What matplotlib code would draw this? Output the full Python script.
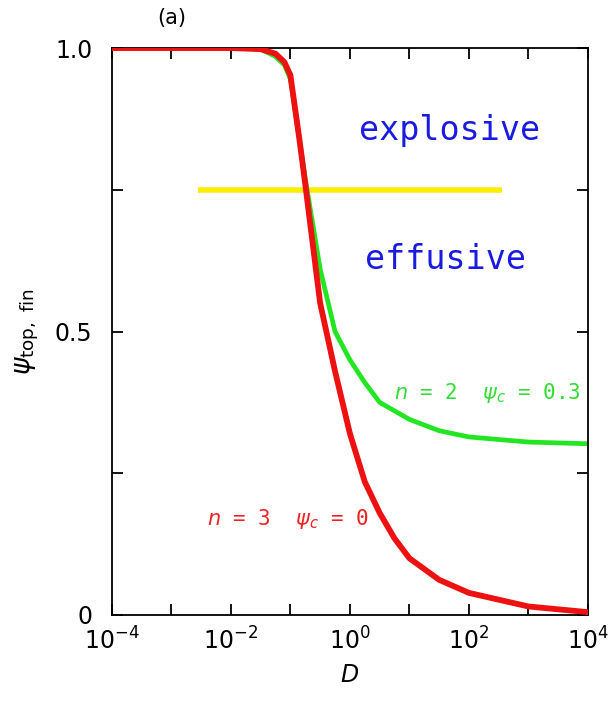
import matplotlib.pyplot as plt
import numpy as np

# log10(D) sample points and final top porosity for each case
logD_red = [-4, -2, -1.5, -1.25, -1.1, -1.0, -0.85, -0.75, -0.5, -0.25, 0, 0.25, 0.5, 0.75, 1.0, 1.5, 2, 3, 4]
psi_red = [1.0, 1.0, 0.998, 0.99, 0.975, 0.952, 0.84, 0.76, 0.55, 0.43, 0.32, 0.235, 0.18, 0.135, 0.10, 0.062, 0.039, 0.015, 0.005]

logD_green = [-4, -2, -1.5, -1.25, -1.1, -1.0, -0.85, -0.75, -0.5, -0.25, 0, 0.25, 0.5, 1.0, 1.5, 2, 3, 4]
psi_green = [1.0, 1.0, 0.998, 0.985, 0.97, 0.945, 0.84, 0.77, 0.61, 0.50, 0.45, 0.41, 0.375, 0.345, 0.325, 0.314, 0.305, 0.302]

# threshold separating explosive / effusive
threshold = 0.75
threshold_span = [10**-2.55, 10**2.55]

xticks = [1e-4, 1e-3, 1e-2, 1e-1, 1e0, 1e1, 1e2, 1e3, 1e4]
xticklabels = [r'$10^{-4}$', '', r'$10^{-2}$', '', r'$10^{0}$', '', r'$10^{2}$', '', r'$10^{4}$']
yticks = [0, 0.25, 0.5, 0.75, 1.0]
yticklabels = ['0', '', '0.5', '', '1.0']

fig = plt.figure(figsize=(6.08, 7.01), dpi=100)
ax = fig.add_axes([0.184, 0.1227, 0.783, 0.8088])

ax.plot(threshold_span, [threshold, threshold], color='#ffee00', lw=4.0, solid_capstyle='butt', zorder=1)
ax.plot(10**np.array(logD_green), psi_green, color='#22e622', lw=3.4, zorder=2)
ax.plot(10**np.array(logD_red), psi_red, color='#ee1111', lw=4.2, zorder=3)

ax.set_xscale('log')
ax.set_xlim(1e-4, 1e4)
ax.set_ylim(0, 1.0)
ax.set_xticks(xticks)
ax.set_xticklabels(xticklabels)
ax.xaxis.set_minor_locator(plt.NullLocator())
ax.set_yticks(yticks)
ax.set_yticklabels(yticklabels)
ax.tick_params(direction='in', top=True, right=True, length=8, width=1.3, labelsize=17, pad=9)
ax.tick_params(axis='y', pad=14)
for s in ax.spines.values():
    s.set_linewidth(1.3)

ax.set_xlabel(r'$D$', fontsize=17, labelpad=6)
ax.set_ylabel(r'$\psi_{\mathrm{top,\ fin}}$', fontsize=19, labelpad=10)

ax.text(0.71, 0.855, 'explosive', transform=ax.transAxes, ha='center', va='center',
        color='#1a1ae0', fontsize=24, family='DejaVu Sans Mono')
ax.text(0.70, 0.627, 'effusive', transform=ax.transAxes, ha='center', va='center',
        color='#1a1ae0', fontsize=24, family='DejaVu Sans Mono')
ax.text(0.985, 0.392, r'$n$ = 2  $\psi_c$ = 0.3', transform=ax.transAxes, ha='right', va='center',
        color='#33dd33', fontsize=15, family='DejaVu Sans Mono')
ax.text(0.20, 0.17, r'$n$ = 3  $\psi_c$ = 0', transform=ax.transAxes, ha='left', va='center',
        color='#ee2222', fontsize=15, family='DejaVu Sans Mono')

fig.text(0.283, 0.974, '(a)', ha='center', va='center', fontsize=15)

fig.savefig('out.png', dpi=100)
